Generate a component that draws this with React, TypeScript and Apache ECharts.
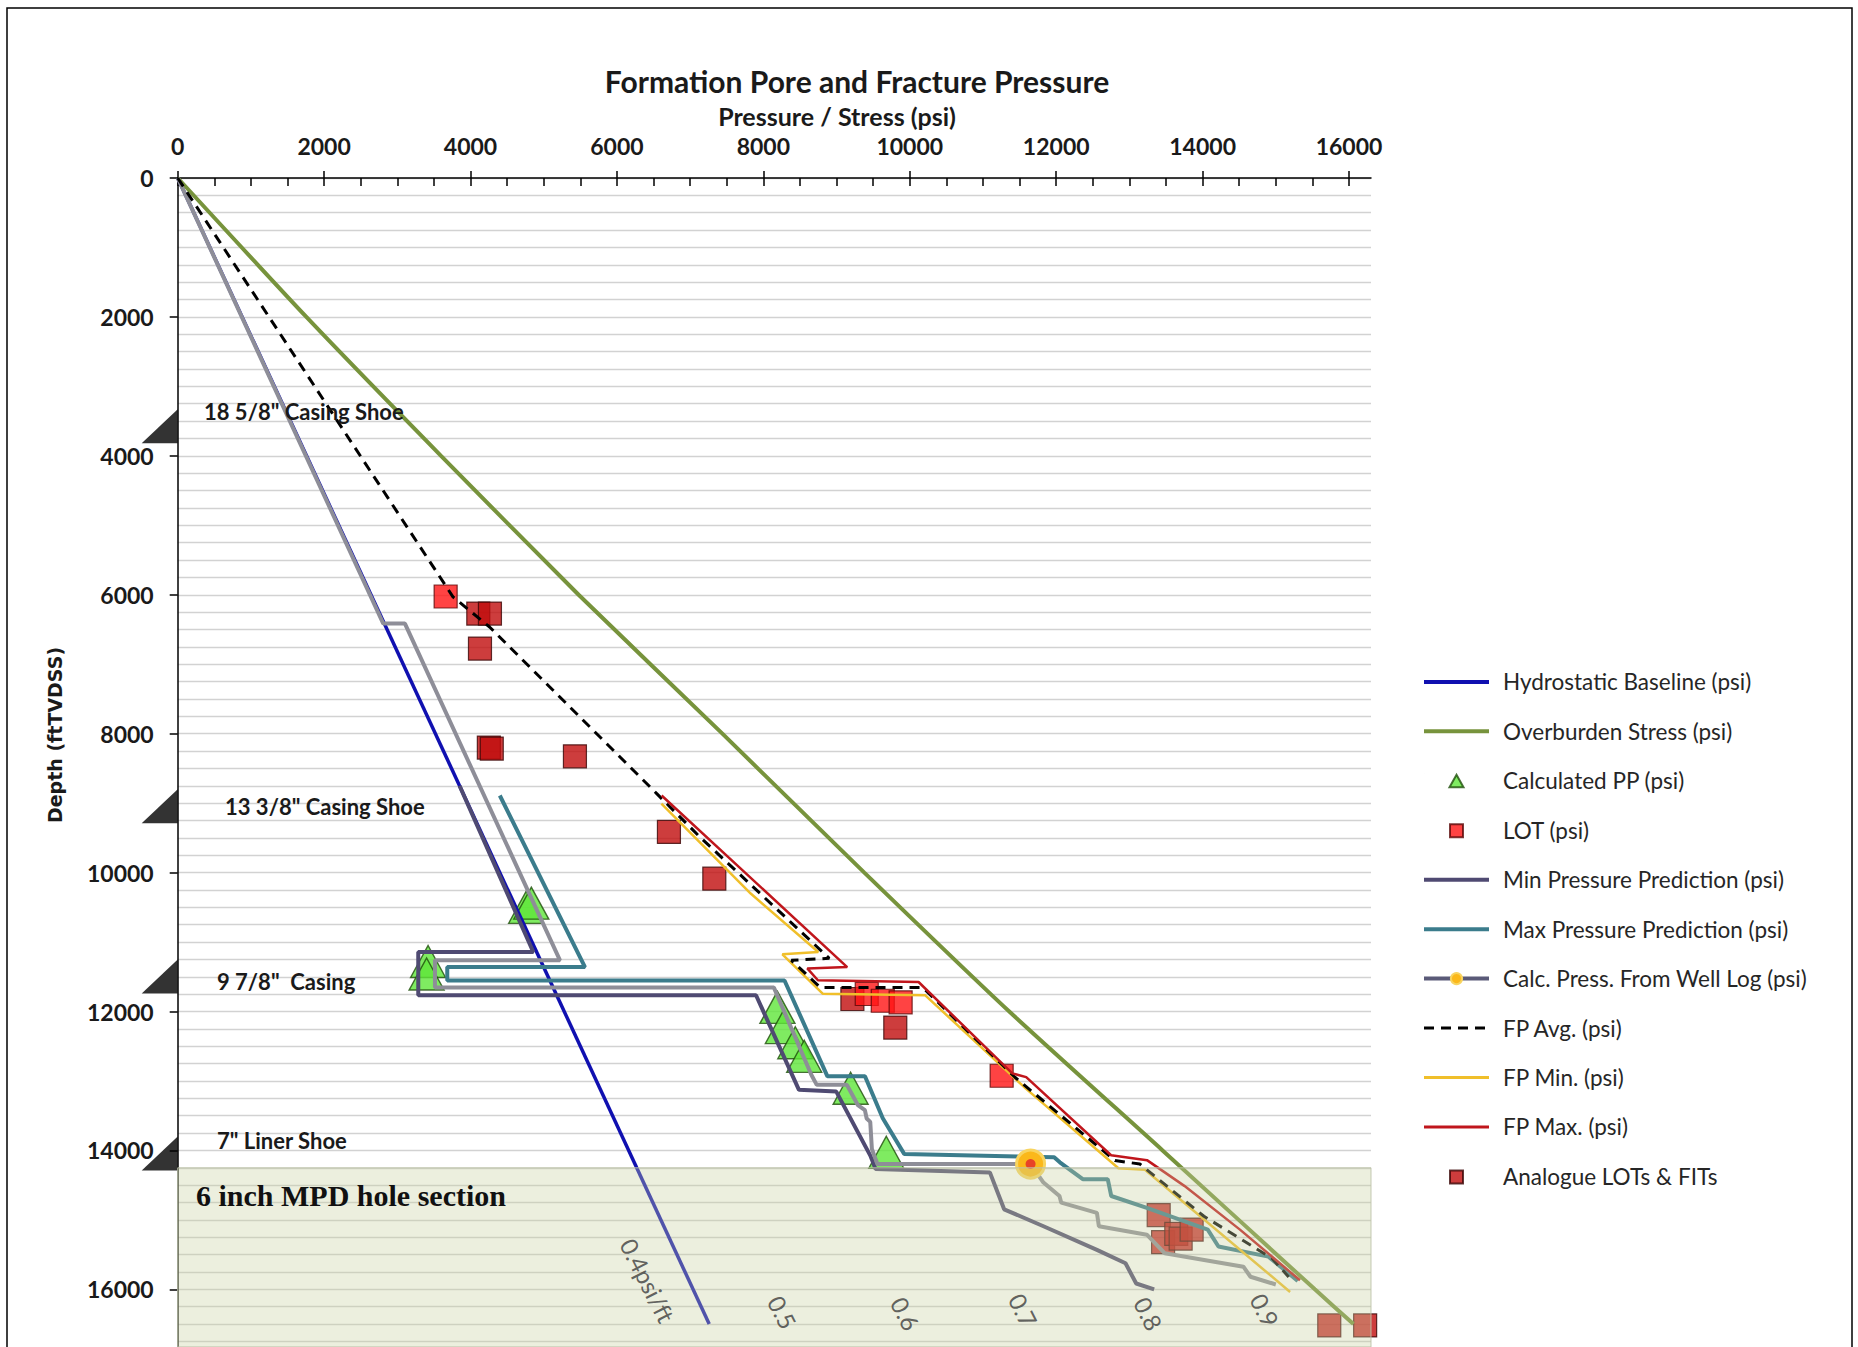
import React, { useEffect, useRef } from 'react';
import * as echarts from 'echarts';

// ---------- axes ----------
const X_MAX = 16300;
const Y_MAX = 16830;
const xMajorTicks = [0, 2000, 4000, 6000, 8000, 10000, 12000, 14000, 16000];
const yMajorTicks = [0, 2000, 4000, 6000, 8000, 10000, 12000, 14000, 16000];
const xMinorTicks: number[] = [];
for (let v = 0; v <= 16000; v += 500) xMinorTicks.push(v);

// ---------- series data: [pressure psi, depth ft] ----------
const hydrostatic = [[0, 0], [7260, 16500]];
const overburden = [
  [0, 0], [1757, 2000], [3597, 4000], [5476, 6000], [7440, 8000], [9379, 10000],
  [11359, 12000], [13453, 14000], [15533, 16000], [16060, 16500],
];
const minPressure = [
  [3850, 8750], [4857, 11143], [3286, 11143], [3286, 11766], [7900, 11766], [8486, 13128],
  [8996, 13153], [9461, 14075], [9533, 14269], [11094, 14316], [11289, 14848], [11826, 15092],
  [12556, 15432], [12947, 15625], [13093, 15916], [13338, 16000],
];
const maxPressure = [
  [4400, 8890], [5563, 11360], [3682, 11360], [3682, 11553], [8289, 11553], [8875, 12933],
  [9388, 12933], [9631, 13538], [9923, 14050], [11972, 14099], [12050, 14171], [12363, 14414],
  [12704, 14414], [12752, 14656], [13238, 14826], [14070, 15141], [14216, 15383], [14899, 15529],
  [15300, 15880],
];
const calcMarkerPoint = [11650, 14196];
const calcWellLog = [
  [0, 0], [2808, 6415], [3104, 6415], [5222, 11263], [3514, 11263], [3514, 11656], [8144, 11656],
  [8655, 12911], [8729, 13056], [9141, 13056], [9290, 13347], [9387, 13419], [9411, 13540],
  [9460, 13589], [9482, 13978], [9557, 14196], calcMarkerPoint, [11826, 14462], [12045, 14656],
  [12069, 14752], [12556, 14898], [12583, 15092], [13238, 15213], [13484, 15481], [14557, 15674],
  [14654, 15819], [15000, 15930],
];
const fpAvg = [
  [0, 0], [3760, 6030], [4260, 6464], [6550, 8870], [7133, 9487], [8900, 11234], [8383, 11263],
  [8780, 11656], [10180, 11656], [11440, 12950], [12803, 14146], [13142, 14195], [14018, 14948],
  [14947, 15553], [15176, 15822],
];
const fpMin = [
  [6607, 9007], [7827, 10302], [8750, 11143], [8260, 11176], [8810, 11743], [10212, 11767],
  [11582, 13107], [12850, 14257], [13212, 14277], [15195, 16037],
];
const fpMax = [
  [6610, 8890], [9145, 11360], [8600, 11380], [8745, 11550], [10120, 11575], [11400, 12890],
  [11590, 12945], [12750, 14070], [13240, 14140], [13750, 14510], [14510, 15140], [15330, 15870],
];
const calculatedPP = [
  [4760, 10500], [4830, 10440], [3420, 11280], [3400, 11460], [8192, 11940], [8266, 12231],
  [8436, 12450], [8558, 12645], [9192, 13105], [9679, 14027],
];
const lotPoints = [[3660, 6025], [9412, 11748], [9631, 11845], [9875, 11868], [11255, 12925]];
const analoguePoints = [
  [4106, 6271], [4265, 6271], [4129, 6775], [4250, 8200], [4290, 8215], [5426, 8326],
  [6710, 9415], [7330, 10087], [9216, 11820], [9802, 12231], [13400, 14930], [13460, 15320],
  [13640, 15200], [13700, 15270], [13850, 15140], [15730, 16520], [16220, 16520],
];

// ---------- annotations ----------
const shoeDepths = [3820, 9290, 11740, 14290];
const MPD_TOP = 14250;
const gradientLabelText = ['0.4psi/ft', '0.5', '0.6', '0.7', '0.8', '0.9'];
const gradientLabelPsi = [6420, 8260, 9940, 11550, 13260, 14850];
const gradientLabelDepth = [15870, 16330, 16350, 16300, 16350, 16300];

const NAMES = {
  hydro: 'Hydrostatic Baseline (psi)',
  ob: 'Overburden Stress (psi)',
  cpp: 'Calculated PP (psi)',
  lot: 'LOT (psi)',
  minP: 'Min Pressure Prediction (psi)',
  maxP: 'Max Pressure Prediction (psi)',
  calc: 'Calc. Press. From Well Log (psi)',
  avg: 'FP Avg. (psi)',
  fmin: 'FP Min. (psi)',
  fmax: 'FP Max. (psi)',
  ana: 'Analogue LOTs & FITs',
};

const C = {
  hydro: '#1010b0',
  ob: '#77933c',
  minP: '#4f4a72',
  maxP: '#3b7c8c',
  calc: '#8e8e98',
  avg: '#000000',
  fmin: '#f0bf2a',
  fmax: '#c0161c',
  cpp: '#5fe639',
  lot: '#ff1414',
  ana: '#c00c0c',
};

// legend icons: small centred marker inside a 65x14 box (tiny invisible corner points fix the box)
const ICON_TRI = 'path://M0,0 L0.01,0 Z M65,14 L64.99,14 Z M32.5,1 L39.5,13.5 L25.5,13.5 Z';
const ICON_SQ = 'path://M0,0 L0.01,0 Z M65,14 L64.99,14 Z M26,1 L39,1 L39,14 L26,14 Z';

export default function App() {
  const ref = useRef<HTMLDivElement>(null);

  useEffect(() => {
    const chart = echarts.init(ref.current as HTMLDivElement, null, { renderer: 'svg' });
    const gridBox = { left: 177.7, top: 178, width: 1193.3, height: 1169 };
    const labelFont = {
      fontFamily: 'Lato', fontWeight: 'bold' as const, fontSize: 23, color: '#1a1a1a',
      formatter: (v: number) => String(v),
    };
    const hideSym = { opacity: 0 };
    const casingText = (x: number, y: number, text: string) => ({
      type: 'text', z: 100, x, y,
      style: { text, fontFamily: 'Lato', fontWeight: 'bold', fontSize: 22, fill: '#1a1a1a', align: 'left', verticalAlign: 'middle' },
    });

    const option: any = {
      animation: false,
      backgroundColor: '#ffffff',
      grid: [{ ...gridBox }, { ...gridBox }],
      xAxis: [
        {
          gridIndex: 0, type: 'value', position: 'top', min: 0, max: X_MAX, interval: 500,
          axisLine: { show: true, onZero: false, lineStyle: { color: '#000', width: 1.5 } },
          axisTick: { show: true, inside: true, length: 8, customValues: xMinorTicks, lineStyle: { color: '#000', width: 1.5 } },
          axisLabel: { show: true, customValues: xMajorTicks, margin: 21, ...labelFont },
          splitLine: { show: false },
        },
        {
          gridIndex: 1, type: 'value', position: 'top', min: 0, max: X_MAX, interval: 500,
          axisLine: { show: false, onZero: false },
          axisTick: { show: true, inside: false, length: 7, customValues: xMajorTicks, lineStyle: { color: '#000', width: 1.5 } },
          axisLabel: { show: false },
          splitLine: { show: false },
        },
      ],
      yAxis: [
        {
          gridIndex: 0, type: 'value', inverse: true, min: 0, max: Y_MAX, interval: 2000,
          axisLine: { show: true, onZero: false, lineStyle: { color: '#000', width: 1.5 } },
          axisTick: { show: true, inside: false, length: 8, customValues: yMajorTicks, lineStyle: { color: '#000', width: 1.5 } },
          axisLabel: { show: true, customValues: yMajorTicks, margin: 24, ...labelFont },
          splitLine: { show: false },
        },
        {
          gridIndex: 1, type: 'value', inverse: true, min: 0, max: Y_MAX, interval: 250,
          axisLine: { show: false }, axisTick: { show: false }, axisLabel: { show: false },
          splitLine: { show: true, lineStyle: { color: '#d2d2d2', width: 1.3 } },
        },
      ],
      legend: {
        orient: 'vertical', left: 1422, top: 670.4, padding: 0,
        itemWidth: 65, itemHeight: 14, itemGap: 26.45, selectedMode: false, symbolKeepAspect: true,
        textStyle: { fontFamily: 'Lato', fontSize: 22.5, color: '#262626', lineHeight: 20, padding: [0, 0, 0, 9] },
        data: [
          { name: NAMES.hydro, lineStyle: { width: 4 }, itemStyle: hideSym },
          { name: NAMES.ob, lineStyle: { width: 4 }, itemStyle: hideSym },
          { name: NAMES.cpp, icon: ICON_TRI },
          { name: NAMES.lot, icon: ICON_SQ },
          { name: NAMES.minP, lineStyle: { width: 4 }, itemStyle: hideSym },
          { name: NAMES.maxP, lineStyle: { width: 4 }, itemStyle: hideSym },
          { name: NAMES.calc, lineStyle: { width: 4, color: '#5a5a78' } },
          { name: NAMES.avg, lineStyle: { width: 3 }, itemStyle: hideSym },
          { name: NAMES.fmin, lineStyle: { width: 3 }, itemStyle: hideSym },
          { name: NAMES.fmax, lineStyle: { width: 3 }, itemStyle: hideSym },
          { name: NAMES.ana, icon: ICON_SQ },
        ],
      },
      graphic: [
        { type: 'rect', silent: true, z: 100, shape: { x: 7, y: 8, width: 1845, height: 1400 }, style: { fill: 'none', stroke: '#000', lineWidth: 1.5 } },
        { type: 'text', z: 100, x: 857, y: 81, style: { text: 'Formation Pore and Fracture Pressure', fontFamily: 'Lato', fontWeight: 'bold', fontSize: 30, fill: '#1a1a1a', align: 'center', verticalAlign: 'middle' } },
        { type: 'text', z: 100, x: 837, y: 116, style: { text: 'Pressure / Stress (psi)', fontFamily: 'Lato', fontWeight: 'bold', fontSize: 25, fill: '#1a1a1a', align: 'center', verticalAlign: 'middle' } },
        { type: 'text', z: 100, x: 55, y: 735, rotation: Math.PI / 2, style: { text: 'Depth (ftTVDSS)', fontFamily: 'DejaVu Sans', fontWeight: 'bold', fontSize: 19, fill: '#1a1a1a', align: 'center', verticalAlign: 'middle' } },
        casingText(204, 411, '18 5/8" Casing Shoe'),
        casingText(225, 806, '13 3/8" Casing Shoe'),
        casingText(217, 981, '9 7/8"  Casing'),
        casingText(217, 1140, '7" Liner Shoe'),
        { type: 'text', z: 100, x: 196, y: 1195, style: { text: '6 inch MPD hole section', fontFamily: 'Liberation Serif', fontWeight: 'bold', fontSize: 30, fill: '#111', align: 'left', verticalAlign: 'middle' } },
      ],
      series: [
        { name: NAMES.hydro, type: 'line', data: hydrostatic, symbol: 'none', lineStyle: { color: C.hydro, width: 3.5 }, itemStyle: { color: C.hydro } },
        { name: NAMES.ob, type: 'line', data: overburden, symbol: 'none', smooth: 0.2, lineStyle: { color: C.ob, width: 4 }, itemStyle: { color: C.ob } },
        { name: NAMES.minP, type: 'line', data: minPressure, symbol: 'none', lineStyle: { color: C.minP, width: 4 }, itemStyle: { color: C.minP } },
        { name: NAMES.maxP, type: 'line', data: maxPressure, symbol: 'none', lineStyle: { color: C.maxP, width: 4 }, itemStyle: { color: C.maxP } },
        {
          name: NAMES.calc, type: 'line', symbol: 'circle', symbolSize: 28, showSymbol: true, showAllSymbol: true,
          data: calcWellLog.map((p) => (p === calcMarkerPoint ? { value: p } : { value: p, symbol: 'none' })),
          lineStyle: { color: C.calc, width: 4 },
          itemStyle: { color: '#fbb81a', borderColor: '#f8d460', borderWidth: 3 },
        },
        { name: NAMES.fmin, type: 'line', data: fpMin, symbol: 'none', lineStyle: { color: C.fmin, width: 2.5 }, itemStyle: { color: C.fmin } },
        { name: NAMES.avg, type: 'line', data: fpAvg, symbol: 'none', lineStyle: { color: C.avg, width: 3, type: [10, 7] }, itemStyle: { color: C.avg } },
        { name: NAMES.fmax, type: 'line', data: fpMax, symbol: 'none', lineStyle: { color: C.fmax, width: 2.5 }, itemStyle: { color: C.fmax } },
        { name: '_calcDot', type: 'scatter', z: 5, data: [calcMarkerPoint], symbol: 'circle', symbolSize: 10, itemStyle: { color: '#e3262b' }, silent: true },
        { name: NAMES.ana, type: 'scatter', data: analoguePoints, symbol: 'rect', symbolSize: 23, itemStyle: { color: C.ana, borderColor: '#3a0505', borderWidth: 1.2 } },
        { name: NAMES.lot, type: 'scatter', data: lotPoints, symbol: 'rect', symbolSize: 23, itemStyle: { color: C.lot, borderColor: '#5a0808', borderWidth: 1.2 } },
        { name: NAMES.cpp, type: 'scatter', data: calculatedPP, symbol: 'triangle', symbolSize: [35, 32], itemStyle: { color: C.cpp, borderColor: '#1e4d0a', borderWidth: 1.4 } },
        {
          name: '_shoes', type: 'scatter', clip: false, silent: true, z: 3,
          data: shoeDepths.map((d) => [0, d]),
          symbol: 'path://M36,0 L36,34 L0,34 Z', symbolSize: [36, 34], symbolOffset: [-18, -17],
          itemStyle: { color: '#000' },
        },
        {
          name: '_mpd', type: 'line', data: [[0, MPD_TOP]], symbol: 'none', lineStyle: { width: 0 }, silent: true,
          markArea: {
            silent: true, z: 10,
            itemStyle: { color: 'rgba(200,210,160,0.35)', borderColor: 'rgba(190,195,170,0.9)', borderWidth: 1 },
            data: [[{ yAxis: MPD_TOP }, { yAxis: Y_MAX }]],
          },
        },
        {
          name: '_grad', type: 'scatter', z: 20, silent: true, symbolSize: 1, itemStyle: { color: 'rgba(0,0,0,0)' },
          data: gradientLabelText.map((t, i) => ({ name: t, value: [gradientLabelPsi[i], gradientLabelDepth[i]] })),
          label: { show: true, position: 'inside', formatter: '{b}', rotate: -63, fontFamily: 'Lato', fontSize: 24, color: '#3c3c3c' },
        },
      ],
    };
    chart.setOption(option);
    return () => chart.dispose();
  }, []);

  return <div ref={ref} style={{ position: 'absolute', left: 0, top: 0, width: 1858, height: 1347, background: '#fff' }} />;
}
